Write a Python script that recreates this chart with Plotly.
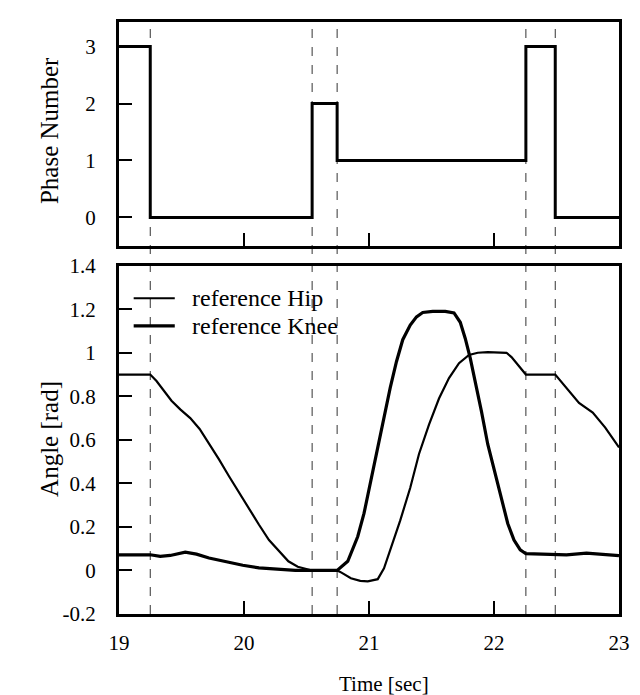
import plotly.graph_objects as go

# ---------------- data ----------------
phase_time = [19.0, 19.25, 20.545, 20.745, 22.255, 22.49, 23.0]
phase_num = [3, 0, 2, 1, 3, 0, 0]

boundaries = [19.25, 20.545, 20.745, 22.255, 22.49]

hip_time = [19.0, 19.25, 19.30, 19.355, 19.42, 19.49, 19.57, 19.645, 19.72, 19.80,
            19.88, 19.96, 20.04, 20.12, 20.20, 20.28, 20.355, 20.43, 20.51, 20.545,
            20.745, 20.78, 20.855, 20.93, 20.99, 21.07, 21.12, 21.17, 21.25, 21.33,
            21.40, 21.48, 21.56, 21.64, 21.72, 21.80, 21.87, 21.95, 22.10, 22.14,
            22.21, 22.255, 22.49, 22.58, 22.68, 22.79, 22.89, 23.0]
hip_angle = [0.9, 0.9, 0.87, 0.83, 0.78, 0.74, 0.70, 0.65, 0.585, 0.51,
             0.433, 0.358, 0.283, 0.21, 0.14, 0.087, 0.042, 0.017, 0.003, 0.0,
             0.0, -0.01, -0.036, -0.048, -0.05, -0.04, 0.01, 0.095, 0.23, 0.38,
             0.535, 0.67, 0.79, 0.884, 0.952, 0.99, 1.0, 1.003, 1.0, 0.98,
             0.93, 0.9, 0.9, 0.84, 0.77, 0.725, 0.656, 0.565]

knee_time = [19.0, 19.25, 19.33, 19.41, 19.53, 19.62, 19.72, 19.855, 19.99, 20.12,
             20.25, 20.41, 20.545, 20.745, 20.83, 20.91, 20.96, 21.01, 21.07, 21.12,
             21.17, 21.22, 21.27, 21.33, 21.38, 21.43, 21.51, 21.61, 21.68, 21.73,
             21.77, 21.81, 21.85, 21.90, 21.95, 22.01, 22.06, 22.11, 22.16, 22.21,
             22.255, 22.49, 22.58, 22.74, 22.9, 23.0]
knee_angle = [0.072, 0.072, 0.065, 0.069, 0.084, 0.075, 0.057, 0.039, 0.024, 0.012,
              0.005, 0.0, 0.0, 0.0, 0.042, 0.156, 0.262, 0.40, 0.55, 0.70,
              0.84, 0.96, 1.06, 1.127, 1.165, 1.185, 1.19, 1.19, 1.183, 1.14,
              1.066, 0.975, 0.87, 0.73, 0.58, 0.444, 0.32, 0.216, 0.14, 0.095,
              0.077, 0.075, 0.072, 0.08, 0.072, 0.068]

series_names = ["reference Hip", "reference Knee"]

x_ticks = [19, 20, 21, 22, 23]
x_ticktext = ["19", "20", "21", "22", "23"]
phase_ticks = [0, 1, 2, 3]
phase_ticktext = ["0", "1", "2", "3"]
angle_ticks = [-0.2, 0, 0.2, 0.4, 0.6, 0.8, 1.0, 1.2, 1.4]
angle_ticktext = ["-0.2", "0", "0.2", "0.4", "0.6", "0.8", "1", "1.2", "1.4"]

# ---------------- figure ----------------
FONT = "Liberation Serif"
W, H = 640, 695
ML, MR, MT, MB = 119, 10, 14, 81
plot_w = W - ML - MR
plot_h = H - MT - MB

def ypaper(py):
    return (H - MB - py) / plot_h

def xpaper(px):
    return (px - ML) / plot_w

widths = [2.2, 3.2]

fig = go.Figure()

fig.add_trace(go.Scatter(x=phase_time, y=phase_num, mode="lines", line_shape="hv",
                         line=dict(color="black", width=3), showlegend=False,
                         xaxis="x2", yaxis="y2"))
fig.add_trace(go.Scatter(x=hip_time, y=hip_angle, mode="lines", name=series_names[0],
                         line=dict(color="black", width=widths[0]), showlegend=False,
                         xaxis="x", yaxis="y"))
fig.add_trace(go.Scatter(x=knee_time, y=knee_angle, mode="lines", name=series_names[1],
                         line=dict(color="black", width=widths[1]), showlegend=False,
                         xaxis="x", yaxis="y"))

for b in boundaries:
    fig.add_shape(type="line", xref="x", yref="paper", x0=b, x1=b, y0=0, y1=1,
                  line=dict(color="#333", width=1, dash="dash"), layer="below")

# legend drawn by hand (sample lines + text)
for i, (name, py) in enumerate(zip(series_names, [294, 322])):
    fig.add_shape(type="line", xref="paper", yref="paper",
                  x0=xpaper(134), x1=xpaper(176), y0=ypaper(py), y1=ypaper(py),
                  line=dict(color="black", width=widths[i]))
    fig.add_annotation(text=name, xref="paper", yref="paper",
                       x=xpaper(192), y=ypaper(py), xanchor="left", yanchor="middle",
                       showarrow=False, font=dict(family=FONT, size=24, color="black"))

axis_common = dict(showgrid=False, zeroline=False, showline=True, linecolor="black",
                   linewidth=3, mirror=True, ticks="inside", tickcolor="black",
                   tickwidth=1.5, ticklen=13,
                   tickfont=dict(family=FONT, size=21, color="black"))

top_dom = [ypaper(241), 1.0]
bot_dom = [0.0, ypaper(261)]

fig.update_layout(
    width=W, height=H,
    margin=dict(l=ML, r=MR, t=MT, b=MB),
    paper_bgcolor="white", plot_bgcolor="white",
    font=dict(family=FONT, size=20, color="black"),
    xaxis=dict(range=[19, 23], tickvals=x_ticks, ticktext=x_ticktext,
               domain=[0, 1], anchor="y", ticklabelstandoff=8, **axis_common),
    yaxis=dict(range=[-0.2, 1.4], tickvals=angle_ticks, ticktext=angle_ticktext,
               domain=bot_dom, anchor="x", ticklabelstandoff=16, **axis_common),
    xaxis2=dict(range=[19, 23], tickvals=x_ticks, showticklabels=False,
                domain=[0, 1], anchor="y2", **axis_common),
    yaxis2=dict(range=[-0.5, 3.43], tickvals=phase_ticks, ticktext=phase_ticktext,
                domain=top_dom, anchor="x2", ticklabelstandoff=16, **axis_common),
    showlegend=False,
)

fig.add_annotation(text="Phase Number", xref="paper", yref="paper",
                   x=xpaper(48), y=ypaper(124), textangle=-90,
                   showarrow=False, xanchor="center", yanchor="middle",
                   font=dict(family=FONT, size=25, color="black"))
fig.add_annotation(text="Angle [rad]", xref="paper", yref="paper",
                   x=xpaper(48), y=ypaper(437), textangle=-90,
                   showarrow=False, xanchor="center", yanchor="middle",
                   font=dict(family=FONT, size=25, color="black"))
fig.add_annotation(text="Time [sec]", xref="paper", yref="paper",
                   x=xpaper(390), y=ypaper(685), showarrow=False,
                   xanchor="center", yanchor="middle",
                   font=dict(family=FONT, size=21, color="black"))

fig.write_html("out.html")
